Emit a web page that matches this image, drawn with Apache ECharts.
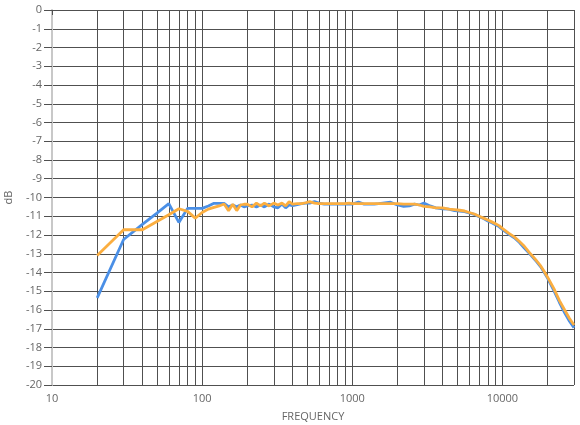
<!DOCTYPE html>
<html>
<head>
<meta charset="utf-8">
<script src="https://cdn.jsdelivr.net/npm/echarts@6/dist/echarts.min.js"></script>
<style>
html,body{margin:0;padding:0;background:#fff;}
#chart{width:580px;height:425px;}
</style>
</head>
<body>
<div id="chart"></div>
<script>
// Frequencies (Hz)
const freqs = [20,30,40,50,60,70,80,90,100,110,120,130,140,150,160,170,180,190,
  200,215,230,245,260,280,300,320,340,360,380,400,430,460,490,520,560,600,650,700,750,800,850,900,950,
  1000,1100,1200,1300,1400,1500,1600,1800,2000,2200,2400,2600,2800,3000,3300,3600,4000,4400,4800,5200,5600,
  6000,6500,7000,7500,8000,8500,9000,9500,10000,11000,12000,13000,14000,15000,16000,17000,18000,19000,
  20000,22000,24000,26000,28000,30000];

// Blue series (dB)
const blueDb = [-15.35,-12.24,-11.43,-10.83,-10.33,-11.33,-10.58,-10.58,-10.58,-10.45,-10.31,-10.31,-10.31,-10.5,-10.4,-10.5,-10.4,-10.5,
  -10.45,-10.4,-10.5,-10.4,-10.5,-10.35,-10.5,-10.55,-10.35,-10.55,-10.4,-10.44,-10.38,-10.33,-10.3,-10.3,-10.22,-10.3,-10.35,-10.35,-10.35,-10.35,-10.35,-10.35,-10.35,
  -10.35,-10.25,-10.35,-10.35,-10.35,-10.33,-10.3,-10.25,-10.4,-10.47,-10.45,-10.35,-10.4,-10.3,-10.45,-10.55,-10.6,-10.62,-10.7,-10.72,-10.75,
  -10.82,-10.9,-11.02,-11.12,-11.25,-11.35,-11.45,-11.55,-11.7,-11.95,-12.15,-12.4,-12.7,-12.95,-13.2,-13.45,-13.7,-14.0,
  -14.3,-14.95,-15.6,-16.15,-16.6,-16.95];

// Orange series (dB)
const orangeDb = [-13.09,-11.72,-11.72,-11.28,-10.92,-10.6,-10.74,-11.1,-10.8,-10.62,-10.53,-10.45,-10.35,-10.7,-10.36,-10.7,-10.4,-10.36,
  -10.36,-10.5,-10.3,-10.45,-10.3,-10.45,-10.3,-10.4,-10.3,-10.45,-10.22,-10.35,-10.33,-10.33,-10.28,-10.22,-10.3,-10.33,-10.33,-10.33,-10.33,-10.33,-10.33,-10.33,-10.3,
  -10.33,-10.33,-10.33,-10.33,-10.33,-10.33,-10.33,-10.33,-10.33,-10.35,-10.35,-10.35,-10.4,-10.47,-10.5,-10.55,-10.55,-10.62,-10.65,-10.68,-10.72,
  -10.8,-10.88,-11.0,-11.1,-11.2,-11.3,-11.4,-11.5,-11.65,-11.9,-12.1,-12.35,-12.6,-12.9,-13.15,-13.4,-13.65,-13.95,
  -14.25,-14.85,-15.5,-16.0,-16.45,-16.8];

// Minor vertical grid lines (Hz)
const minorGridFreqs = [20,30,40,50,60,70,80,90,200,300,400,500,600,700,800,900,
  2000,3000,4000,5000,6000,7000,8000,9000,20000];

const gridColor = '#505050';
const labelColor = '#666';
const fontFamily = '"Open Sans", "Noto Sans", sans-serif';

const chart = echarts.init(document.getElementById('chart'), null, {renderer:'canvas'});
chart.setOption({
  animation: false,
  backgroundColor: '#fff',
  grid: {left: 52, right: 6, top: 10, bottom: 40, containLabel: false, outerBoundsMode: 'none'},
  xAxis: {
    type: 'log', logBase: 10, min: 10, max: 30000,
    name: 'FREQUENCY', nameLocation: 'middle', nameGap: 26,
    nameTextStyle: {color: labelColor, fontSize: 11, fontFamily: fontFamily},
    axisLine: {show: true, lineStyle: {color: gridColor, width: 1}},
    axisTick: {show: true, length: 5, lineStyle: {color: gridColor}},
    axisLabel: {color: labelColor, fontSize: 11, fontFamily: fontFamily, margin: 8, showMaxLabel: false,
      formatter: v => String(Math.round(v))},
    splitLine: {show: true, lineStyle: {color: gridColor, width: 1}}
  },
  yAxis: {
    type: 'value', min: -20, max: 0, interval: 1,
    name: 'dB', nameLocation: 'middle', nameGap: 38, nameRotate: 90,
    nameTextStyle: {color: labelColor, fontSize: 11, fontFamily: fontFamily},
    axisLine: {show: true, lineStyle: {color: '#c8c8c8', width: 2}},
    axisTick: {show: true, length: 8, lineStyle: {color: gridColor}},
    axisLabel: {color: labelColor, fontSize: 11, fontFamily: fontFamily, margin: 10},
    splitLine: {show: true, lineStyle: {color: gridColor, width: 1}}
  },
  series: [
    {
      type: 'line', name: 'A', z: 3,
      data: freqs.map((f, i) => [f, blueDb[i]]),
      showSymbol: false, symbol: 'none',
      lineStyle: {color: '#4a8fe6', width: 2.8},
      itemStyle: {color: '#4a8fe6'},
      markLine: {
        silent: true, symbol: 'none', z: 1,
        label: {show: false},
        lineStyle: {color: gridColor, width: 1, type: 'solid'},
        emphasis: {disabled: true},
        data: minorGridFreqs.map(f => ({xAxis: f}))
      }
    },
    {
      type: 'line', name: 'B', z: 4,
      data: freqs.map((f, i) => [f, orangeDb[i]]),
      showSymbol: false, symbol: 'none',
      lineStyle: {color: '#fbae40', width: 2.8},
      itemStyle: {color: '#fbae40'}
    }
  ]
});
</script>
</body>
</html>
